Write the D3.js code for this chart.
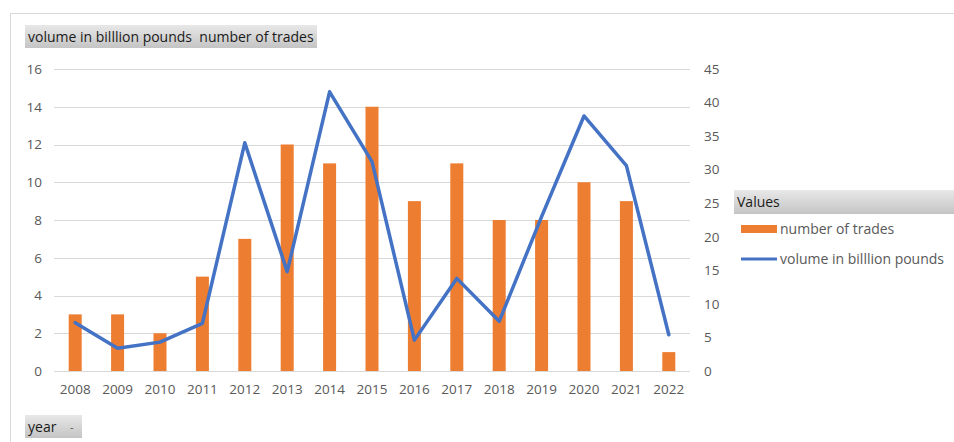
<!DOCTYPE html>
<html>
<head>
<meta charset="utf-8">
<script src="https://cdn.jsdelivr.net/npm/d3@7"></script>
<style>
  body { margin: 0; background: #fff; }
  text { font-family: "Open Sans", sans-serif; }
</style>
</head>
<body>
<div id="container"></div>
<script>
// chart values
const years = ["2008","2009","2010","2011","2012","2013","2014","2015","2016","2017","2018","2019","2020","2021","2022"];
const trades = [3, 3, 2, 5, 7, 12, 11, 14, 9, 11, 8, 8, 10, 9, 1];
const volume = [7.2, 3.4, 4.3, 7.1, 34, 14.8, 41.6, 31.2, 4.6, 13.8, 7.4, 23, 38, 30.6, 5.4];
const leftTicks = [0, 2, 4, 6, 8, 10, 12, 14, 16];
const rightTicks = [0, 5, 10, 15, 20, 25, 30, 35, 40, 45];
const legendLabels = ["number of trades", "volume in billlion pounds"];

const width = 954, height = 442;
const orange = "#ED7D31", blue = "#4472C4", grey = "#595959";

const svg = d3.select("#container").append("svg")
    .attr("width", width).attr("height", height);

// gradient for pivot field buttons
const grad = svg.append("defs").append("linearGradient")
    .attr("id", "btn").attr("x1", 0).attr("y1", 0).attr("x2", 0).attr("y2", 1);
grad.append("stop").attr("offset", "0%").attr("stop-color", "#e8e8e8");
grad.append("stop").attr("offset", "100%").attr("stop-color", "#c4c4c4");

// outer frame (only top and left edges visible)
svg.append("path")
    .attr("d", `M10.5,${height} V13.5 H${width}`)
    .attr("fill", "none").attr("stroke", "#d9d9d9");

// scales
const x = d3.scaleBand().domain(years).range([54, 690]);
const yL = d3.scaleLinear().domain([0, 16]).range([371, 69]);
const yR = d3.scaleLinear().domain([0, 45]).range([371, 69]);

// gridlines
svg.append("g").selectAll("line").data(leftTicks).join("line")
    .attr("x1", 54).attr("x2", 690)
    .attr("y1", d => Math.round(yL(d)) + 0.5).attr("y2", d => Math.round(yL(d)) + 0.5)
    .attr("stroke", "#d9d9d9").attr("stroke-width", 1);

const axisFont = "13.5px";

// left axis
const axL = svg.append("g").attr("transform", "translate(42,0)")
    .call(d3.axisLeft(yL).tickValues(leftTicks).tickSize(0).tickPadding(0));
axL.select(".domain").remove();
axL.selectAll("text").attr("fill", grey).style("font-size", axisFont).style("font-family", "Open Sans");

// right axis
const axR = svg.append("g").attr("transform", "translate(704,0)")
    .call(d3.axisRight(yR).tickValues(rightTicks).tickSize(0).tickPadding(0));
axR.select(".domain").remove();
axR.selectAll("text").attr("fill", grey).style("font-size", axisFont).style("font-family", "Open Sans");

// bottom axis
const axB = svg.append("g").attr("transform", "translate(0,371)")
    .call(d3.axisBottom(x).tickSize(0).tickPadding(13));
axB.select(".domain").remove();
axB.selectAll("text").attr("fill", grey).style("font-size", axisFont).style("font-family", "Open Sans");

// bars
const bw = 13;
svg.append("g").selectAll("rect").data(trades).join("rect")
    .attr("x", (d, i) => x(years[i]) + x.bandwidth() / 2 - bw / 2)
    .attr("width", bw)
    .attr("y", d => yL(d))
    .attr("height", d => yL(0) - yL(d))
    .attr("fill", orange);

// line
const line = d3.line()
    .x((d, i) => x(years[i]) + x.bandwidth() / 2)
    .y(d => yR(d));
svg.append("path").datum(volume)
    .attr("d", line)
    .attr("fill", "none").attr("stroke", blue)
    .attr("stroke-width", 3.5).attr("stroke-linejoin", "round").attr("stroke-linecap", "round");

// field buttons
function button(x0, y0, w, h, label) {
  const g = svg.append("g");
  g.append("rect").attr("x", x0).attr("y", y0).attr("width", w).attr("height", h)
      .attr("fill", "url(#btn)");
  g.append("text").attr("x", x0 + 3).attr("y", y0 + h / 2 + 5)
      .attr("fill", "#1a1a1a").style("font-size", "14px")
      .style("white-space", "pre").text(label);
  return g;
}
button(25, 25, 292, 23, "volume in billlion pounds  number of trades");
const yb = button(25, 415, 57, 23, "year");
yb.append("text").attr("x", 70).attr("y", 431).attr("fill", "#555").style("font-size", "11px").text("-");

// legend
button(734, 190, 220, 24, "Values");
const lg = svg.append("g").attr("transform", "translate(741,229)");
lg.append("rect").attr("x", 0).attr("y", -4).attr("width", 36).attr("height", 8).attr("fill", orange);
lg.append("line").attr("x1", 0).attr("x2", 36).attr("y1", 30).attr("y2", 30)
    .attr("stroke", blue).attr("stroke-width", 3);
lg.selectAll("text.lab").data(legendLabels).join("text").attr("class", "lab")
    .attr("x", 39).attr("y", (d, i) => i * 30 + 5)
    .attr("fill", grey).style("font-size", "14px").text(d => d);
</script>
</body>
</html>
